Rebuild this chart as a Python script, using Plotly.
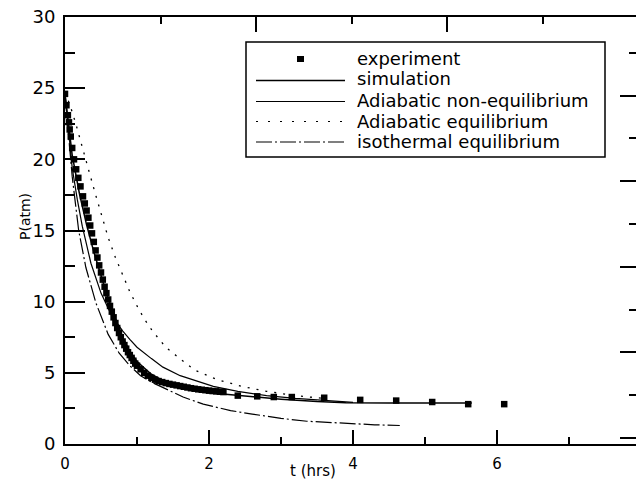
import plotly.graph_objects as go

# ---------------- data ----------------
# experiment: early separate samples, dense band, then sparse samples
exp_t = [0.0, 0.02, 0.04, 0.055, 0.065, 0.08, 0.10, 0.125, 0.155, 0.185, 0.215,
         0.25, 0.275, 0.30, 0.325, 0.35, 0.375, 0.40, 0.425, 0.45, 0.475, 0.50, 0.525,
         0.55, 0.575, 0.60, 0.625, 0.65, 0.675, 0.70, 0.725, 0.75, 0.775, 0.80, 0.825,
         0.85, 0.875, 0.90, 0.925, 0.95, 0.975, 1.00, 1.05, 1.10, 1.15, 1.20, 1.25,
         1.30, 1.35, 1.40, 1.45, 1.50, 1.55, 1.60, 1.65, 1.70, 1.75, 1.80, 1.85,
         1.90, 1.95, 2.00, 2.05, 2.10, 2.15, 2.20,
         2.4, 2.67, 2.9, 3.15, 3.6, 4.1, 4.6, 5.1, 5.6, 6.1]
exp_p = [24.6, 23.8, 23.1, 22.6, 22.1, 21.6, 20.8, 20.0, 19.3, 18.7, 18.1,
         17.4, 16.9, 16.4, 15.9, 15.35, 14.8, 14.2, 13.6, 13.1, 12.55, 12.05, 11.55,
         11.05, 10.6, 10.15, 9.7, 9.3, 8.9, 8.5, 8.15, 7.8, 7.5, 7.2, 6.95,
         6.7, 6.45, 6.25, 6.05, 5.85, 5.65, 5.5, 5.25, 5.0, 4.8, 4.65, 4.52,
         4.42, 4.35, 4.28, 4.22, 4.17, 4.12, 4.07, 4.02, 3.97, 3.92, 3.88, 3.84,
         3.81, 3.78, 3.75, 3.72, 3.70, 3.67, 3.65,
         3.4, 3.35, 3.3, 3.3, 3.25, 3.1, 3.05, 2.95, 2.8, 2.8]

sim_t = [0.0, 0.1, 0.2, 0.3, 0.4, 0.5, 0.6, 0.7, 0.8, 0.9, 1.0, 1.2, 1.4, 1.6, 1.8,
         2.0, 2.3, 2.6, 3.0, 3.5, 3.9, 4.5, 5.0, 5.65]
sim_p = [24.6, 20.3, 17.6, 15.4, 13.5, 11.8, 10.2, 8.8, 7.5, 6.5, 5.8, 4.9, 4.35, 4.0, 3.75,
         3.6, 3.45, 3.3, 3.15, 2.98, 2.9, 2.88, 2.88, 2.88]

adi_neq_t = [0.0, 0.1, 0.17, 0.24, 0.36, 0.5, 0.65, 0.8, 0.9, 1.0, 1.2, 1.36, 1.6, 1.9,
             2.06, 2.4, 2.8, 3.2, 3.6, 4.0]
adi_neq_p = [24.6, 19.4, 17.2, 15.3, 12.7, 10.6, 9.0, 7.95, 7.35, 6.8, 6.0, 5.4, 4.8, 4.3,
             4.05, 3.7, 3.4, 3.2, 3.05, 2.92]

adi_eq_t = [0.0, 0.07, 0.15, 0.22, 0.32, 0.42, 0.51, 0.6, 0.7, 0.8, 0.9, 1.0, 1.1, 1.22,
            1.4, 1.62, 1.8, 2.1, 2.45, 2.8, 3.2, 3.6]
adi_eq_p = [24.7, 23.8, 22.5, 21.3, 19.4, 17.6, 16.0, 14.5, 13.1, 11.9, 10.7, 9.7, 8.8, 7.9,
            6.8, 5.9, 5.2, 4.55, 4.05, 3.7, 3.4, 3.2]

iso_eq_t = [0.0, 0.05, 0.1, 0.14, 0.19, 0.29, 0.43, 0.6, 0.75, 0.9, 1.05, 1.2, 1.42, 1.64,
            1.92, 2.3, 2.6, 3.0, 3.36, 3.7, 4.0, 4.3, 4.65]
iso_eq_p = [24.5, 21.5, 18.8, 17.1, 15.0, 12.4, 9.9, 7.7, 6.4, 5.5, 4.8, 4.35, 3.8, 3.3,
            2.8, 2.35, 2.1, 1.8, 1.6, 1.5, 1.4, 1.35, 1.3]

series_names = ["experiment", "simulation", "Adiabatic non-equilibrium",
                "Adiabatic equilibrium", "isothermal equilibrium"]

x_ticks = [0, 2, 4, 6]
y_ticks = [0, 5, 10, 15, 20, 25, 30]
x_title = "t (hrs)"
y_title = "P(atm)"

# ---------------- layout helpers (page pixels; body margin removed on load) ----------------
W, H = 636, 483
ML, MR, MT, MB = 65, 0, 17, 39
PW, PH = W - ML - MR, H - MT - MB


def px(x):
    return (x - ML) / PW


def py(y):
    return 1 - (y - MT) / PH


FONT = "DejaVu Sans, Arial, sans-serif"
DOT = "2px,7px"
DASHDOT = "16px,3px,2px,3px"

fig = go.Figure()

fig.add_trace(go.Scatter(x=iso_eq_t, y=iso_eq_p, mode="lines", name=series_names[4],
                         line=dict(color="black", width=1.2, dash=DASHDOT), showlegend=False))
fig.add_trace(go.Scatter(x=adi_eq_t, y=adi_eq_p, mode="lines", name=series_names[3],
                         line=dict(color="black", width=1.3, dash=DOT), showlegend=False))
fig.add_trace(go.Scatter(x=adi_neq_t, y=adi_neq_p, mode="lines", name=series_names[2],
                         line=dict(color="black", width=1.2), showlegend=False))
fig.add_trace(go.Scatter(x=sim_t, y=sim_p, mode="lines", name=series_names[1],
                         line=dict(color="black", width=1.5), showlegend=False))
fig.add_trace(go.Scatter(x=exp_t, y=exp_p, mode="markers", name=series_names[0],
                         marker=dict(symbol="square", size=6.5, color="black"), showlegend=False))
# carrier for the mirrored (top / right) tick axes
fig.add_trace(go.Scatter(x=[None], y=[None], xaxis="x2", yaxis="y2", mode="markers",
                         showlegend=False, hoverinfo="skip"))

tickfont_y = dict(family=FONT, size=18, color="black")
tickfont_x = dict(family=FONT, size=15, color="black")

fig.update_layout(
    width=W, height=H,
    margin=dict(l=ML, r=MR, t=MT, b=MB, pad=0, autoexpand=False),
    paper_bgcolor="white", plot_bgcolor="white",
    font=dict(family=FONT, color="black"),
    showlegend=False,
    xaxis=dict(range=[0, PW / 72.0], tickmode="array", tickvals=x_ticks,
               ticktext=[str(v) for v in x_ticks], automargin=False,
               ticklabeloverflow="allow",
               ticks="inside", ticklen=14, tickwidth=2, tickcolor="black",
               minor=dict(dtick=1, tick0=0, ticks="inside", ticklen=7, tickwidth=1.5,
                          tickcolor="black", showgrid=False),
               showline=True, linecolor="black", linewidth=2,
               showgrid=False, zeroline=False, tickfont=tickfont_x, ticklabelstandoff=5),
    yaxis=dict(range=[0, 30], tickmode="array", tickvals=y_ticks,
               ticktext=[str(v) for v in y_ticks], automargin=False,
               ticklabeloverflow="allow",
               ticks="inside", ticklen=20, tickwidth=2, tickcolor="black",
               minor=dict(dtick=2.5, tick0=0, ticks="inside", ticklen=10, tickwidth=1.5,
                          tickcolor="black", showgrid=False),
               showline=True, linecolor="black", linewidth=2,
               showgrid=False, zeroline=False, tickfont=tickfont_y, ticklabelstandoff=4),
    xaxis2=dict(overlaying="x", side="top", anchor="y", range=[0, PW / 191.0],
                automargin=False,
                dtick=1, tick0=0, ticks="inside", ticklen=15, tickwidth=2, tickcolor="black",
                minor=dict(dtick=0.5, tick0=0, ticks="inside", ticklen=7, tickwidth=1.5,
                           tickcolor="black", showgrid=False),
                showticklabels=False, showline=True, linecolor="black", linewidth=2,
                showgrid=False, zeroline=False),
    yaxis2=dict(overlaying="y", side="right", anchor="x", range=[-0.07, PH / 85.6 - 0.07],
                automargin=False,
                dtick=1, tick0=0, ticks="inside", ticklen=16, tickwidth=2, tickcolor="black",
                minor=dict(dtick=0.5, tick0=0, ticks="inside", ticklen=7, tickwidth=1.5,
                           tickcolor="black", showgrid=False),
                showticklabels=False, showline=False, showgrid=False, zeroline=False),
)

# axis titles placed where the original has them
fig.add_annotation(text=x_title, xref="paper", yref="paper", x=px(313), y=py(471),
                   xanchor="center", yanchor="middle", showarrow=False,
                   font=dict(family=FONT, size=15, color="black"))
fig.add_annotation(text=y_title, xref="paper", yref="paper", x=px(25), y=py(217),
                   xanchor="center", yanchor="middle", showarrow=False, textangle=-90,
                   font=dict(family=FONT, size=14, color="black"))

# ---------------- hand-built legend box (matches the original's spacing) ----------------
shapes = [dict(type="rect", xref="paper", yref="paper",
               x0=px(246), x1=px(605), y0=py(157), y1=py(42),
               line=dict(color="black", width=1.5), fillcolor="white", layer="above")]
shapes.append(dict(type="rect", xref="paper", yref="paper",
                   x0=px(297), x1=px(304), y0=py(62), y1=py(56),
                   line=dict(color="black", width=0), fillcolor="black", layer="above"))
sample_rows = [(80.5, dict(color="black", width=1.5)),
               (101.5, dict(color="black", width=1.2)),
               (121.5, dict(color="black", width=1.0, dash="2px,10px")),
               (142.0, dict(color="black", width=1.2, dash=DASHDOT))]
for yy, ln in sample_rows:
    shapes.append(dict(type="line", xref="paper", yref="paper",
                       x0=px(256), x1=px(345), y0=py(yy), y1=py(yy), line=ln, layer="above"))
fig.update_layout(shapes=shapes)

row_y = [58, 79, 100, 121, 141]
for name, yy in zip(series_names, row_y):
    fig.add_annotation(text=name, xref="paper", yref="paper", x=px(355), y=py(yy),
                       xanchor="left", yanchor="middle", showarrow=False,
                       font=dict(family=FONT, size=18, color="black"))

# drop the browser's default 8 px body margin so the figure fills the window exactly
fig.write_html("out.html",
               config={"displayModeBar": False},
               post_script="document.body.style.margin='0';document.body.style.overflow='hidden';")
